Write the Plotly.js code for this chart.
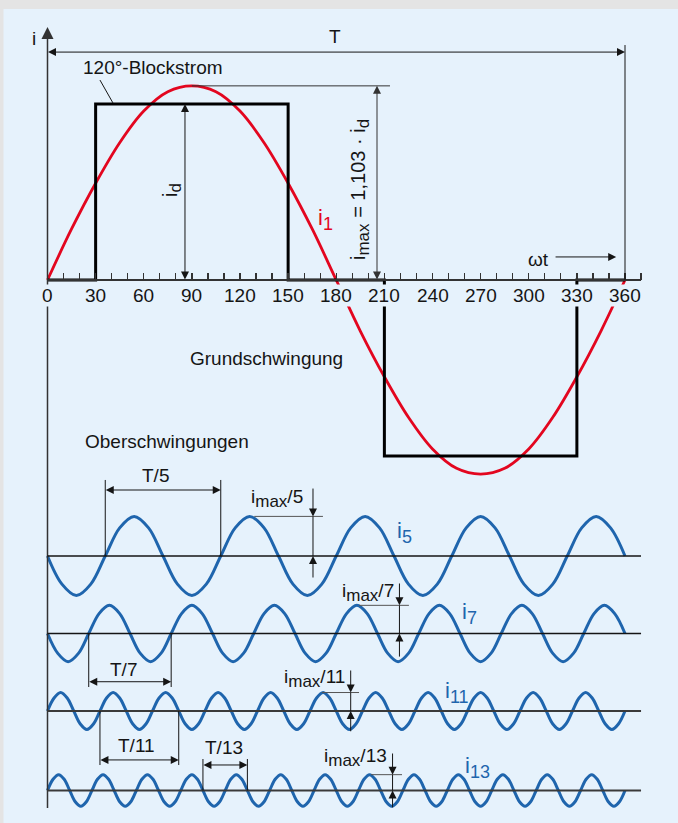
<!DOCTYPE html>
<html><head><meta charset="utf-8">
<script src="https://cdn.plot.ly/plotly-3.0.1.min.js"></script>
<style>html,body{margin:0;padding:0;background:#e4e4e4;}#chart{width:678px;height:823px;}</style>
</head><body><div id="chart"></div>
<script>
// ---------------- data ----------------
const tickDeg = [0,30,60,90,120,150,180,210,240,270,300,330,360];
const minorDeg = [10,20,40,50,70,80,100,110,130,140,160,170,190,200,220,230,250,260,280,290,310,320,340,350,370];
const blockDeg = [0,30,30,150,150,210,210,330,330,360];
const blockVal = [0,0,1,1,0,0,-1,-1,0,0];
const i1Deg = [0,15,30,45,60,75,90,105,120,135,150,165,180,195,210,225,240,255,270,285,300,315,330,345,360];
const i1Val = [0,0.29,0.55,0.78,0.96,1.07,1.103,1.07,0.96,0.78,0.55,0.29,0,-0.29,-0.55,-0.78,-0.96,-1.07,-1.103,-1.07,-0.96,-0.78,-0.55,-0.29,0];
const harmonicOrders = [5,7,11,13];
const i5Val = [
 0,-.16,-.225,-.16,0,.16,.225,.16,
 0,-.16,-.225,-.16,0,.16,.225,.16,
 0,-.16,-.225,-.16,0,.16,.225,.16,
 0,-.16,-.225,-.16,0,.16,.225,.16,
 0,-.16,-.225,-.16,0,.16,.225,.16,
 0];
const i7Val = [
 0,-.113,-.16,-.113,0,.113,.16,.113,
 0,-.113,-.16,-.113,0,.113,.16,.113,
 0,-.113,-.16,-.113,0,.113,.16,.113,
 0,-.113,-.16,-.113,0,.113,.16,.113,
 0,-.113,-.16,-.113,0,.113,.16,.113,
 0,-.113,-.16,-.113,0,.113,.16,.113,
 0,-.113,-.16,-.113,0,.113,.16,.113,
 0];
const i11Val = [
 0,.074,.105,.074,0,-.074,-.105,-.074,
 0,.074,.105,.074,0,-.074,-.105,-.074,
 0,.074,.105,.074,0,-.074,-.105,-.074,
 0,.074,.105,.074,0,-.074,-.105,-.074,
 0,.074,.105,.074,0,-.074,-.105,-.074,
 0,.074,.105,.074,0,-.074,-.105,-.074,
 0,.074,.105,.074,0,-.074,-.105,-.074,
 0,.074,.105,.074,0,-.074,-.105,-.074,
 0,.074,.105,.074,0,-.074,-.105,-.074,
 0,.074,.105,.074,0,-.074,-.105,-.074,
 0,.074,.105,.074,0,-.074,-.105,-.074,
 0];
const i13Val = [
 0,.064,.09,.064,0,-.064,-.09,-.064,
 0,.064,.09,.064,0,-.064,-.09,-.064,
 0,.064,.09,.064,0,-.064,-.09,-.064,
 0,.064,.09,.064,0,-.064,-.09,-.064,
 0,.064,.09,.064,0,-.064,-.09,-.064,
 0,.064,.09,.064,0,-.064,-.09,-.064,
 0,.064,.09,.064,0,-.064,-.09,-.064,
 0,.064,.09,.064,0,-.064,-.09,-.064,
 0,.064,.09,.064,0,-.064,-.09,-.064,
 0,.064,.09,.064,0,-.064,-.09,-.064,
 0,.064,.09,.064,0,-.064,-.09,-.064,
 0,.064,.09,.064,0,-.064,-.09,-.064,
 0,.064,.09,.064,0,-.064,-.09,-.064,
 0];

// ---------------- layout geometry ----------------
const W = 678, H = 823;
const X0 = 47.5, XS = 577.5/360;   // px of 0 deg, px per degree
const YS = 176;                     // px per unit (i_d)
const FONT = 'Liberation Sans, Arial, Helvetica, sans-serif';
const BLUE = '#1f65ad', RED = '#e3061f', INK = '#151515', PANEL = '#e6f2fc';
function yr(c){ return [-(H-c)/YS, c/YS]; }
const xRange = [-X0/XS, (W-X0)/XS];

function seg(x0,y0,x1,y1,yref,color,width){
  return {type:'line', xref:'x', yref:yref, x0:x0, y0:y0, x1:x1, y1:y1, line:{color:color, width:width}};
}
function arr(x,y,ax,ay,yref,both,color,w){
  return {xref:'x', yref:yref, axref:'x', ayref:yref, x:x, y:y, ax:ax, ay:ay, text:'', showarrow:true,
    arrowhead:2, arrowsize:1.6, arrowwidth:w||1, arrowcolor:color||INK, standoff:0, startstandoff:0,
    startarrowhead:2, startarrowsize:1.6,
    arrowside: both ? 'end+start' : 'end', font:{size:1}, borderpad:0};
}
function txt(t,px,py,o){
  o = o||{};
  return {xref:'paper', yref:'paper', x:px/W, y:1-py/H, text:t, showarrow:false,
    xanchor:'center', yanchor:'middle', textangle:o.angle||0,
    font:{family:FONT, size:o.size||19, color:o.color||INK}};
}
function sub(t,size){ return '<sub><span style="font-size:'+size+'px">'+t+'</span></sub>'; }

const traces = [
  {x:i1Deg, y:i1Val, mode:'lines', line:{color:RED, width:2.8, shape:'spline', smoothing:1}, yaxis:'y'},
  {x:blockDeg, y:blockVal, mode:'lines', line:{color:'#000', width:3}, yaxis:'y'},
  {y:i5Val, x0:0, dx:360/(8*harmonicOrders[0]), mode:'lines', line:{color:BLUE, width:3, shape:'spline', smoothing:1}, yaxis:'y2'},
  {y:i7Val, x0:0, dx:360/(8*harmonicOrders[1]), mode:'lines', line:{color:BLUE, width:3, shape:'spline', smoothing:1}, yaxis:'y3'},
  {y:i11Val, x0:0, dx:360/(8*harmonicOrders[2]), mode:'lines', line:{color:BLUE, width:3, shape:'spline', smoothing:1}, yaxis:'y4'},
  {y:i13Val, x0:0, dx:360/(8*harmonicOrders[3]), mode:'lines', line:{color:BLUE, width:3, shape:'spline', smoothing:1}, yaxis:'y5'}
];

const shapes = [
  {type:'rect', xref:'paper', yref:'paper', x0:3.5/W, x1:1, y0:0, y1:1-9/H, fillcolor:PANEL, line:{width:0}, layer:'below'},
  seg(0,0,370,0,'y','#333',2),
  seg(0,0,0,-3.0,'y','#333',1.5),
  seg(360,0,360,1.335,'y',INK,1),
  seg(32.7,1.136,40.8,1.006,'y',INK,1),
  seg(90,1.103,213.5,1.103,'y','#333',1),
  // i5
  seg(0,0,370,0,'y2',INK,1.3),
  seg(36,0,36,0.432,'y2',INK,1),
  seg(108,0,108,0.432,'y2',INK,1),
  seg(128.9,0.225,171.7,0.225,'y2','#555',1),
  seg(165.5,0,165.5,0.225,'y2',INK,1),
  // i7
  seg(0,0,370,0,'y3',INK,1.3),
  seg(25.7,0,25.7,-0.304,'y3',INK,1),
  seg(77.1,0,77.1,-0.304,'y3',INK,1),
  seg(194.2,0.16,225.3,0.16,'y3','#555',1),
  seg(219.4,0,219.4,0.16,'y3',INK,1),
  // i11
  seg(0,0,370,0,'y4','#3a3a3a',2),
  seg(32.7,0,32.7,-0.307,'y4',INK,1),
  seg(81.8,0,81.8,-0.307,'y4',INK,1),
  seg(171.1,0.105,194.2,0.105,'y4','#555',1),
  seg(189.0,0,189.0,0.105,'y4',INK,1),
  // i13
  seg(0,0,370,0,'y5','#3a3a3a',2),
  seg(96.9,0,96.9,0.179,'y5',INK,1),
  seg(124.6,0,124.6,0.179,'y5',INK,1),
  seg(201.7,0.09,221.0,0.09,'y5','#555',1),
  seg(215.1,0,215.1,0.09,'y5',INK,1)
];

// tick labels with panel-coloured background (they knock out the lines behind them)
const tickLabels = tickDeg.map(v => ({xref:'x', yref:'y', x:v, y:(280-295.5)/YS, text:String(v), showarrow:false,
  xanchor:'center', yanchor:'middle', bgcolor:PANEL, borderpad:0,
  font:{family:FONT, size:19, color:INK}}));

const annotations = tickLabels.concat([
  // arrows
  arr(0,1.4375,0,0,'y',false,'#333',1.5),
  arr(360,1.295,0,1.295,'y',true),
  arr(85.7,1,85.7,0,'y',true),
  arr(205.4,1.103,205.4,0,'y',true,'#333'),
  arr(354.5,0.131,316.4,0.131,'y',false),
  arr(108,0.375,36,0.375,'y2',true),
  arr(165.5,0.225,165.5,0.386,'y2',false),
  arr(165.5,0,165.5,-0.125,'y2',false),
  arr(77.1,-0.274,25.7,-0.274,'y3',true),
  arr(219.4,0.16,219.4,0.287,'y3',false),
  arr(219.4,0,219.4,-0.134,'y3',false),
  arr(81.8,-0.278,32.7,-0.278,'y4',true),
  arr(189.0,0.105,189.0,0.233,'y4',false),
  arr(189.0,0,189.0,-0.118,'y4',false),
  arr(124.6,0.145,96.9,0.145,'y5',true),
  arr(215.1,0.09,215.1,0.213,'y5',false),
  arr(215.1,0,215.1,-0.099,'y5',false),
  // texts
  txt('i',34,39),
  txt('T',335,36),
  txt('120°-Blockstrom',152.5,67),
  txt('i'+sub('d',17),172,190,{angle:-90,size:20}),
  txt('i'+sub('max',17)+' = 1,103 · i'+sub('d',17),360,190,{angle:-90,size:20}),
  txt('i'+sub('1',18),325,219,{color:RED,size:22}),
  txt('ωt',538,259),
  txt('Grundschwingung',266.5,358),
  txt('Oberschwingungen',167,441),
  txt('T/5',155,475),
  txt('i'+sub('max',17)+'/5',277,498),
  txt('i'+sub('5',18),404,532,{color:BLUE,size:22}),
  txt('i'+sub('max',17)+'/7',368,592),
  txt('i'+sub('7',18),469,613,{color:BLUE,size:22}),
  txt('T/7',123,669),
  txt('i'+sub('max',17)+'/11',314,678),
  txt('i'+sub('11',18),457,692,{color:BLUE,size:22}),
  txt('T/11',136.6,745),
  txt('T/13',224,747),
  txt('i'+sub('max',17)+'/13',355,757),
  txt('i'+sub('13',18),478,767,{color:BLUE,size:22})
]);

const hidden = {visible:false, fixedrange:true};
const layout = {
  width:W, height:H, margin:{l:0,r:0,t:0,b:0}, showlegend:false,
  paper_bgcolor:'#e4e4e4', plot_bgcolor:'rgba(0,0,0,0)',
  xaxis:{range:xRange, anchor:'free', position:1-280/H, showline:false, showgrid:false, zeroline:false,
    ticks:'inside', ticklen:7, tickwidth:1.3, tickcolor:'#333',
    tickmode:'array', tickvals:tickDeg, showticklabels:false,
    minor:{tickmode:'array', tickvals:minorDeg, ticks:'inside', ticklen:7, tickwidth:1.3, tickcolor:'#333', showgrid:false},
    fixedrange:true},
  yaxis:Object.assign({range:yr(280)}, hidden),
  yaxis2:Object.assign({range:yr(556), overlaying:'y'}, hidden),
  yaxis3:Object.assign({range:yr(633.5), overlaying:'y'}, hidden),
  yaxis4:Object.assign({range:yr(711), overlaying:'y'}, hidden),
  yaxis5:Object.assign({range:yr(790.5), overlaying:'y'}, hidden),
  shapes:shapes, annotations:annotations
};
Plotly.newPlot('chart', traces, layout, {displayModeBar:false, staticPlot:true});
</script></body></html>
